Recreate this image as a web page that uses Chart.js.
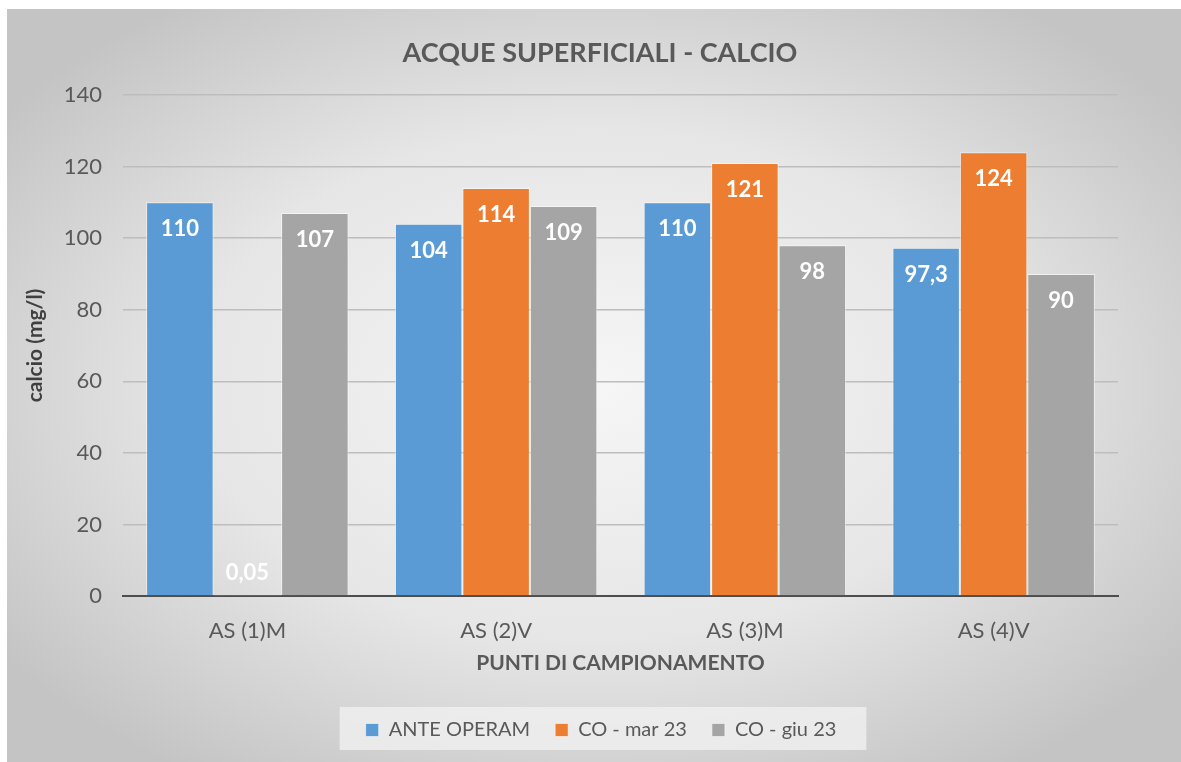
<!DOCTYPE html>
<html>
<head>
<meta charset="utf-8">
<script src="https://cdn.jsdelivr.net/npm/chart.js@4"></script>
<style>
  html, body { margin: 0; padding: 0; background: #ffffff; }
  #wrap { width: 1181px; height: 762px; position: relative; }
</style>
</head>
<body>
<div id="wrap"><canvas id="myChart" width="1181" height="762"></canvas></div>
<script>
// data
const puntiCampionamento = ["AS (1)M", "AS (2)V", "AS (3)M", "AS (4)V"];
const anteOperam = [110, 104, 110, 97.3];
const coMar23 = [0.05, 114, 121, 124];
const coGiu23 = [107, 109, 98, 90];
const serieNomi = ["ANTE OPERAM", "CO - mar 23", "CO - giu 23"];
const yTicks = [0, 20, 40, 60, 80, 100, 120, 140];

const FONT = "Lato, 'Open Sans', sans-serif";
const TESTO = "#595959";

const sfondo = {
    id: 'sfondo',
    afterLayout(chart) {
        // legend sits a bit to the right in the original
        const lg = chart.legend;
        if (lg) {
            lg.left += 42;
            lg.right += 42;
            if (lg.adjustHitBoxes) lg.adjustHitBoxes();
        }
    },
    beforeDraw(chart) {
        const ctx = chart.ctx;
        const x0 = 7, y0 = 9, w = 1174, h = 753;
        ctx.save();
        // radial grey gradient like the office chart style
        ctx.translate(x0 + w / 2, y0 + h / 2);
        ctx.scale(1, h / w);
        const g = ctx.createRadialGradient(0, 0, 0, 0, 0, w * 0.62);
        g.addColorStop(0, '#f6f6f6');
        g.addColorStop(0.55, '#e6e6e6');
        g.addColorStop(1, '#c4c4c4');
        ctx.fillStyle = g;
        ctx.fillRect(-w / 2, -w / 2, w, w);
        ctx.restore();

        // title
        ctx.save();
        ctx.font = "bold 27px " + FONT;
        ctx.fillStyle = TESTO;
        ctx.textAlign = 'center';
        ctx.textBaseline = 'middle';
        ctx.fillText("ACQUE SUPERFICIALI - CALCIO", 600, 53);
        ctx.restore();

        // legend box
        const lg = chart.legend;
        if (lg && lg.legendHitBoxes && lg.legendHitBoxes.length) {
            const hb = lg.legendHitBoxes;
            const l = Math.min(...hb.map(b => b.left)) - 26;
            const r = Math.max(...hb.map(b => b.left + b.width)) + 30;
            ctx.save();
            ctx.fillStyle = 'rgba(240,240,240,0.8)';
            ctx.fillRect(l, 707, r - l, 43);
            ctx.restore();
        }
    }
};

const etichette = {
    id: 'etichette',
    afterDatasetsDraw(chart) {
        const ctx = chart.ctx;
        const base = chart.scales.y.getPixelForValue(0);
        ctx.save();
        ctx.font = "bold 22px " + FONT;
        ctx.fillStyle = '#ffffff';
        ctx.textAlign = 'center';
        ctx.textBaseline = 'middle';
        chart.data.datasets.forEach((ds, i) => {
            chart.getDatasetMeta(i).data.forEach((bar, j) => {
                const y = Math.min(bar.y + 27, base - 23);
                ctx.fillText(String(ds.data[j]).replace('.', ','), bar.x, y);
            });
        });
        ctx.restore();
    }
};

const ctx = document.getElementById('myChart').getContext('2d');
new Chart(ctx, {
    type: 'bar',
    data: {
        labels: puntiCampionamento,
        datasets: [
            { label: serieNomi[0], data: anteOperam, backgroundColor: '#5b9bd5', borderColor: 'rgba(255,255,255,0.55)' },
            { label: serieNomi[1], data: coMar23, backgroundColor: '#ed7d31', borderColor: 'rgba(255,255,255,0.55)' },
            { label: serieNomi[2], data: coGiu23, backgroundColor: '#a5a5a5', borderColor: 'rgba(255,255,255,0.55)' }
        ]
    },
    options: {
        responsive: false,
        animation: false,
        events: [],
        layout: { padding: { top: 95, left: 0, right: 63, bottom: 12 } },
        datasets: {
            bar: { categoryPercentage: 0.814, barPercentage: 1.0, borderWidth: 1, borderSkipped: 'bottom' }
        },
        plugins: {
            title: { display: false },
            tooltip: { enabled: false },
            legend: {
                position: 'bottom',
                labels: {
                    font: { family: FONT, size: 20 },
                    color: TESTO,
                    boxWidth: 13,
                    boxHeight: 13,
                    padding: 25
                }
            }
        },
        scales: {
            x: {
                grid: { display: false },
                border: { display: true, color: '#4d4d4d', width: 2 },
                ticks: { font: { family: FONT, size: 22 }, color: TESTO, padding: 14 },
                title: {
                    display: true,
                    text: 'PUNTI DI CAMPIONAMENTO',
                    font: { family: FONT, size: 21, weight: 'bold' },
                    color: TESTO,
                    padding: { top: 0, bottom: 19 }
                },
                afterFit: s => { s.height = 99; }
            },
            y: {
                min: 0,
                max: 140,
                afterBuildTicks: s => { s.ticks = yTicks.map(v => ({ value: v })); },
                grid: {
                    color: c => c.tick && c.tick.value === 0 ? 'rgba(0,0,0,0)' : '#bdbdbd',
                    lineWidth: 1.5,
                    drawTicks: false
                },
                border: { display: false },
                ticks: { font: { family: FONT, size: 22 }, color: TESTO, padding: 21 },
                title: {
                    display: true,
                    text: 'calcio (mg/l)',
                    font: { family: FONT, size: 21, weight: 'bold' },
                    color: '#404040',
                    padding: { top: 23, bottom: 0 }
                },
                afterFit: s => { s.width = 123; }
            }
        }
    },
    plugins: [sfondo, etichette]
});
</script>
</body>
</html>
